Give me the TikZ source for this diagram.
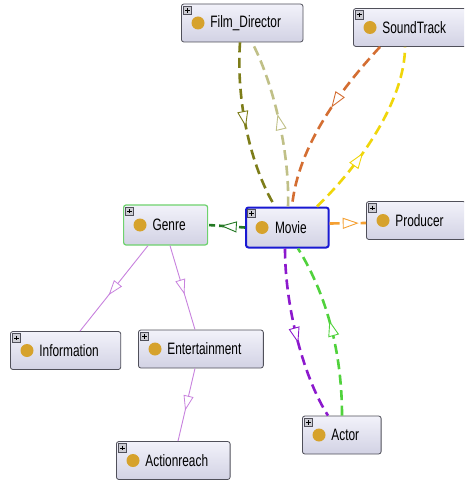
\documentclass[tikz,border=0pt]{standalone}
\usepackage{fontspec}
\newfontfamily\lblfont{Liberation Sans}[FakeStretch=0.72]
\usetikzlibrary{arrows.meta,decorations.markings}
\definecolor{boxtop}{RGB}{242,242,250}
\definecolor{boxbot}{RGB}{210,210,228}
\definecolor{boxline}{RGB}{80,80,90}
\definecolor{goldc}{RGB}{214,162,44}
\definecolor{plusgray}{RGB}{205,205,212}
\definecolor{cOlive}{RGB}{125,125,25}
\definecolor{cKhaki}{RGB}{192,192,135}
\definecolor{cRust}{RGB}{212,110,50}
\definecolor{cYellow}{RGB}{240,214,10}
\definecolor{cOrange}{RGB}{245,160,50}
\definecolor{cDGreen}{RGB}{35,120,35}
\definecolor{cPurple}{RGB}{140,25,205}
\definecolor{cLGreen}{RGB}{80,210,60}
\definecolor{cLav}{RGB}{200,130,222}
\definecolor{cGenre}{RGB}{110,210,110}
\definecolor{cMovie}{RGB}{25,25,210}
\tikzset{
  cls/.style={draw=boxline, line width=0.8pt, rounded corners=2.5pt,
    top color=boxtop, bottom color=boxbot, minimum height=38pt,
    inner xsep=22pt, inner ysep=0pt, anchor=west,
    font=\lblfont\fontsize{16.5}{18}\selectfont, text=black},
  genrebox/.style={draw=cGenre, line width=1.2pt, minimum height=40pt},
  moviebox/.style={draw=cMovie, line width=2pt, minimum height=40pt},
  plusbox/.style={draw=boxline, line width=0.5pt, fill=plusgray},
  rel/.style={line width=2.6pt, dash pattern=on 10pt off 5.5pt,
    postaction={decorate},
    decoration={markings, mark=at position #1 with
      {\arrow{Triangle[length=16pt,width=11pt,fill=white,line width=0.9pt]}}}},
  rel/.default=0.5,
  isa/.style={draw=cLav, line width=0.9pt,
    postaction={decorate},
    decoration={markings, mark=at position #1 with
      {\arrow{Triangle[length=15pt,width=10pt,fill=white,line width=0.8pt]}}}},
  isa/.default=0.58,
}
\newcommand\owlcls[4][]{%
  \node[cls,#1] (#2) at (#3) {\hspace*{7pt}#4};
  \fill[goldc] ([xshift=17pt]#2.west) circle (6.5pt);
  \draw[plusbox] ([xshift=2.5pt,yshift=-2.5pt]#2.north west) rectangle ++(7.5pt,-8.5pt);
  \draw[line width=0.7pt] ([xshift=4pt,yshift=-6.75pt]#2.north west) -- ++(4.5pt,0pt);
  \draw[line width=0.7pt] ([xshift=6.25pt,yshift=-4.5pt]#2.north west) -- ++(0pt,-4.5pt);
}
\begin{document}
\begin{tikzpicture}[x=1pt,y=-1pt]
\useasboundingbox (0,0) rectangle (464,481);
\clip (0,0) rectangle (464,481);
\fill[white] (0,0) rectangle (464,481);

\owlcls{fd}{181,23}{Film\_Director}
\owlcls{st}{353,27.5}{SoundTrack}
\owlcls[genrebox]{genre}{123,225}{Genre}
\owlcls[moviebox]{movie}{245,227.5}{Movie}
\owlcls{prod}{366,220.5}{Producer}
\owlcls{info}{10,350.5}{Information}
\owlcls{ent}{138,349}{Entertainment}
\owlcls{act}{116,460.5}{Actionreach}
\owlcls{actor}{302,435}{Actor}

% Movie relations
\draw[rel=0.5, cOlive] ([xshift=59pt]fd.south west) .. controls (236,100) and (250,165) .. ([xshift=30pt]movie.north west);
\draw[rel=0.55, cKhaki] ([xshift=43pt]movie.north west) .. controls (290,150) and (272,80) .. ([xshift=71pt]fd.south west);
\draw[rel=0.42, cRust] ([xshift=27pt]st.south west) .. controls (342,88) and (298,145) .. ([xshift=47pt]movie.north west);
\draw[rel=0.38, cYellow] ([xshift=72pt]movie.north west) .. controls (360,165) and (405,100) .. ([xshift=52pt]st.south west);
\draw[rel=0.8, cOrange] ([yshift=4pt]movie.east) -- ([yshift=-2.5pt]prod.west);
\draw[rel=0.66, cDGreen, dash pattern=on 6pt off 4pt] (movie.west) -- (genre.east);
\draw[rel=0.55, cPurple] ([xshift=40pt]movie.south west) .. controls (285,310) and (305,380) .. ([xshift=26pt]actor.north west);
\draw[rel=0.55, cLGreen] ([xshift=40pt]actor.north west) .. controls (342,360) and (330,300) .. ([xshift=53pt]movie.south west);

% subclass relations
\draw[isa] ([xshift=25pt]genre.south west) -- ([xshift=70pt]info.north west);
\draw[isa] ([xshift=47pt]genre.south west) -- ([xshift=57pt]ent.north west);
\draw[isa] ([xshift=57pt]ent.south west) -- ([xshift=62pt]act.north west);
\end{tikzpicture}
\end{document}
